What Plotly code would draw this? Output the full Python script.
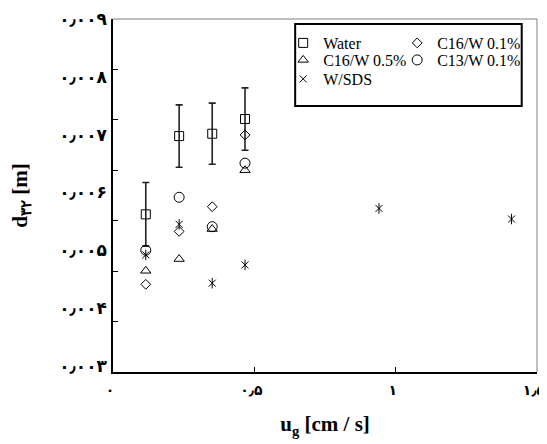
import plotly.graph_objects as go

# ---------------- data ----------------
ug_water = [0.116, 0.234, 0.351, 0.467]
d32_water = [0.00568, 0.00701, 0.00705, 0.00730]
err_water = [0.00054, 0.00053, 0.00052, 0.00053]

ug_c16_01 = [0.116, 0.234, 0.351, 0.467]
d32_c16_01 = [0.00449, 0.00539, 0.00581, 0.00703]

ug_c16_05 = [0.116, 0.234, 0.351, 0.467]
d32_c16_05 = [0.00472, 0.00492, 0.00543, 0.00643]

ug_c13_01 = [0.116, 0.234, 0.351, 0.467]
d32_c13_01 = [0.00507, 0.00597, 0.00547, 0.00655]

ug_sds = [0.116, 0.234, 0.351, 0.467, 0.941, 1.41]
d32_sds = [0.00499, 0.00551, 0.00451, 0.00482, 0.00578, 0.00560]

x_tick_vals = [0, 0.5, 1, 1.5]
x_tick_text = ["۰", "۰٫۵", "۱", "۱٫۵"]
y_tick_vals = [0.003, 0.004, 0.005, 0.006, 0.007, 0.008, 0.009]
y_tick_text = ["۰٫۰۰۳", "۰٫۰۰۴", "۰٫۰۰۵", "۰٫۰۰۶", "۰٫۰۰۷", "۰٫۰۰۸", "۰٫۰۰۹"]

# ---------------- layout constants ----------------
PAGE_W, PAGE_H = 547, 444
BODY_MARGIN = 8                     # default page margin around the figure
W, H = PAGE_W - BODY_MARGIN, PAGE_H - BODY_MARGIN
# plot area in page pixels: x 112.7..537, y 19..372
ML = 112.7 - BODY_MARGIN
MT = 19 - BODY_MARGIN
MR = PAGE_W - 537
MB = PAGE_H - 372
PW, PH = W - ML - MR, H - MT - MB
X_RANGE = [0, 1.5]
Y_RANGE = [0.003, 0.009]
N_TICK_INTERVALS = 7
LABEL_RANGE = [0.002897, 0.009]

SERIF = "Liberation Serif, Times New Roman, DejaVu Serif, serif"
DIGITS = "DejaVu Sans, sans-serif"

tick_step = (Y_RANGE[1] - Y_RANGE[0]) / N_TICK_INTERVALS
y_mark_vals = [Y_RANGE[0] + k * tick_step for k in range(N_TICK_INTERVALS + 1)]


def px_x(px):
    """page pixel x -> paper coordinate"""
    return (px - BODY_MARGIN - ML) / PW


def px_y(py):
    """page pixel y -> paper coordinate"""
    return (H - MB - (py - BODY_MARGIN)) / PH


LEG_X = 283          # page x of the legend rows
LEG_COL_STEP = 114   # distance between the two legend columns
LEG_TEXT_GAP = 40    # symbol area + gaps that plotly puts before each entry text
LEG_ITEM_GAP = 5
LEG_ROW_TOPS = [26, 43, 62]
COL1_WIDTH = LEG_COL_STEP - LEG_TEXT_GAP - LEG_ITEM_GAP

mk_line = dict(color="black", width=1)

fig = go.Figure()

fig.add_trace(go.Scatter(
    x=ug_water, y=d32_water, mode="markers", name="Water", legend="legend",
    legendwidth=COL1_WIDTH,
    marker=dict(symbol="square-open", size=9, color="black", line=mk_line),
    error_y=dict(type="data", array=err_water, visible=True,
                 color="#222222", thickness=1.6, width=3.5),
))
fig.add_trace(go.Scatter(
    x=ug_c16_01, y=d32_c16_01, mode="markers", name="C16/W 0.1%", legend="legend",
    marker=dict(symbol="diamond-open", size=7.5, color="black", line=mk_line),
))
fig.add_trace(go.Scatter(
    x=ug_c16_05, y=d32_c16_05, mode="markers", name="C16/W 0.5%", legend="legend2",
    legendwidth=COL1_WIDTH,
    marker=dict(symbol="triangle-up-open", size=9, color="black", line=mk_line),
))
fig.add_trace(go.Scatter(
    x=ug_c13_01, y=d32_c13_01, mode="markers", name="C13/W 0.1%", legend="legend2",
    marker=dict(symbol="circle-open", size=10, color="black", line=mk_line),
))
fig.add_trace(go.Scatter(
    x=ug_sds, y=d32_sds, mode="markers", name="W/SDS", legend="legend3",
    legendgroup="sds",
    marker=dict(symbol="x-thin-open", size=7, color="black", line=mk_line),
))
fig.add_trace(go.Scatter(
    x=ug_sds, y=d32_sds, mode="markers", name="W/SDS", legend="legend3",
    legendgroup="sds", showlegend=False, hoverinfo="skip",
    marker=dict(symbol="line-ns-open", size=7.5, color="black", line=mk_line),
))

title_font = dict(family=SERIF, size=21, color="black", weight="bold")
ydigit_font = dict(family=DIGITS, size=17, color="black", weight="bold")
xdigit_font = dict(family=DIGITS, size=14, color="black", weight="bold")
legend_font = dict(family=SERIF, size=16, color="black")


def legend_row(top):
    return dict(
        orientation="h", x=px_x(LEG_X), y=px_y(top),
        xanchor="left", yanchor="top", bgcolor="rgba(0,0,0,0)",
        borderwidth=0, font=legend_font, itemwidth=30, tracegroupgap=0,
    )


fig.update_layout(
    width=W, height=H,
    margin=dict(l=ML, r=MR, t=MT, b=MB, autoexpand=False),
    paper_bgcolor="white", plot_bgcolor="white",
    showlegend=True,
    xaxis=dict(
        range=X_RANGE, tickvals=x_tick_vals, ticktext=x_tick_text,
        ticks="inside", ticklen=5, tickwidth=1, tickcolor="black",
        showline=True, linewidth=2, linecolor="black",
        showgrid=False, zeroline=False, automargin=False,
        tickfont=xdigit_font, ticklabelstandoff=4, ticklabelshift=-3,
        ticklabeloverflow="allow",
        title=dict(text="u<sub>g</sub> [cm / s]", standoff=20, font=title_font),
    ),
    yaxis=dict(
        range=Y_RANGE, tickvals=y_mark_vals, showticklabels=False,
        ticks="inside", ticklen=5, tickwidth=1, tickcolor="black",
        showline=True, linewidth=2, linecolor="black",
        showgrid=False, zeroline=False, automargin=False,
    ),
    yaxis2=dict(
        overlaying="y", side="left", anchor="x",
        range=LABEL_RANGE, tickvals=y_tick_vals, ticktext=y_tick_text, ticks="",
        showline=False, showgrid=False, zeroline=False, automargin=False,
        tickfont=ydigit_font, ticklabelstandoff=5, ticklabeloverflow="allow",
        title=dict(text="d<sub>۳۲</sub> [m]", standoff=28, font=title_font),
    ),
    legend=legend_row(LEG_ROW_TOPS[0]),
    legend2=legend_row(LEG_ROW_TOPS[1]),
    legend3=legend_row(LEG_ROW_TOPS[2]),
    shapes=[
        # top and right frame lines of the plot area
        dict(type="line", xref="paper", yref="paper", x0=0, x1=1, y0=1, y1=1,
             line=dict(color="#808080", width=1)),
        dict(type="line", xref="paper", yref="paper", x0=1, x1=1, y0=0, y1=1,
             line=dict(color="#808080", width=1)),
        # legend frame
        dict(type="rect", xref="paper", yref="paper",
             x0=px_x(295), x1=px_x(521.7), y0=px_y(106), y1=px_y(24),
             line=dict(color="black", width=2)),
    ],
)

# an invisible trace so that the label axis is drawn
fig.add_trace(go.Scatter(x=[None], y=[None], yaxis="y2", showlegend=False,
                         hoverinfo="skip", mode="markers"))

fig.write_html("out.html")
